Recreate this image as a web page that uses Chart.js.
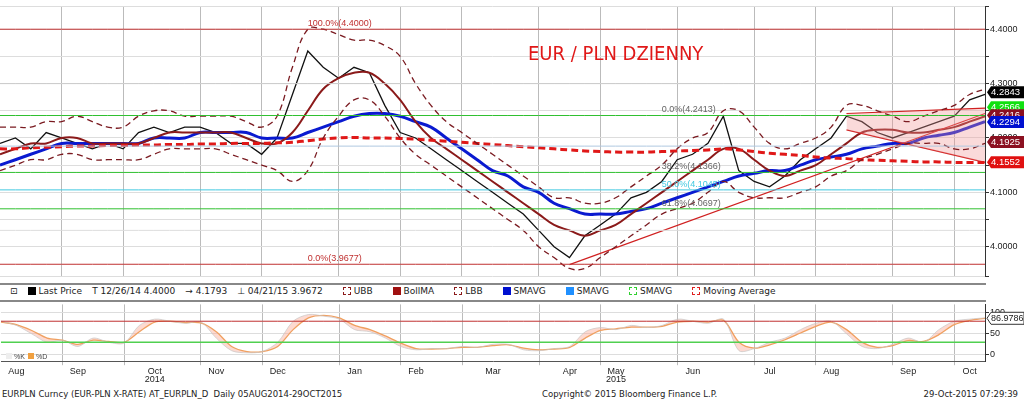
<!DOCTYPE html>
<html><head><meta charset="utf-8">
<script src="https://cdn.jsdelivr.net/npm/chart.js@4"></script>
<style>
body{margin:0;background:#fff;font-family:"DejaVu Sans",sans-serif;width:1024px;height:401px;overflow:hidden;position:relative}
#c1{position:absolute;left:0;top:0}
#c2{position:absolute;left:0;top:298px}
#leg{position:absolute;left:0;top:283px;width:986px;height:15px;font-size:9px;color:#222;border-top:2px solid #888;border-bottom:2px solid #888;line-height:13px;white-space:nowrap}
#leg span{margin-left:10px}
.sw{display:inline-block;width:8px;height:8px;vertical-align:-1px;margin-right:3px}
#foot{position:absolute;top:389px;left:2px;width:1018px;font-size:8.5px;color:#222}
</style></head><body>
<canvas id="c1" width="1024" height="283"></canvas>
<div id="leg"><span>⊡<span class="sw" style="background:#000"></span>Last Price</span><span>T 12/26/14 4.4000</span><span>→ 4.1793</span><span>⊥ 04/21/15 3.9672</span><span><span class="sw" style="border:1px dashed #8b1a1a;width:6px;height:6px"></span>UBB</span><span><span class="sw" style="background:#a01010"></span>BollMA</span><span><span class="sw" style="border:1px dashed #8b1a1a;width:6px;height:6px"></span>LBB</span><span><span class="sw" style="background:#0010d0"></span>SMAVG</span><span><span class="sw" style="background:#2090ff"></span>SMAVG</span><span><span class="sw" style="border:1px dashed #30d030;width:6px;height:6px"></span>SMAVG</span><span><span class="sw" style="border:1px dashed #e02020;width:6px;height:6px"></span>Moving Average</span></div>
<canvas id="c2" width="1024" height="90"></canvas>
<div id="foot"><span>EURPLN Curncy (EUR-PLN X-RATE) AT_EURPLN_D&nbsp; Daily 05AUG2014-29OCT2015</span><span style="position:absolute;left:540px">Copyright© 2015 Bloomberg Finance L.P.</span><span style="position:absolute;right:2px">29-Oct-2015 07:29:39</span></div>
<script>
const xLabels=["","Aug","","","","Sep","","","","","Oct","","","","Nov","","","","Dec","","","","","Jan","","","","Feb","","","","","Mar","","","","","Apr","","","May","","","","","Jun","","","","","Jul","","","","Aug","","","","","Sep","","","","Oct",""];
const yearLabels={10:"2014",40:"2015"};
const monthStart=[0,0,0,0,1,0,0,0,1,0,0,0,0,1,0,0,0,1,0,0,0,0,1,0,0,0,1,0,0,0,1,0,0,0,0,1,0,0,0,1,0,0,0,0,1,0,0,0,0,1,0,0,0,1,0,0,0,0,1,0,0,0,1,0,0];
const price=[4.19,4.20,4.18,4.21,4.20,4.19,4.18,4.19,4.18,4.21,4.22,4.21,4.22,4.22,4.21,4.19,4.19,4.17,4.20,4.28,4.36,4.33,4.31,4.33,4.32,4.26,4.21,4.20,4.18,4.16,4.14,4.12,4.10,4.08,4.06,4.03,4.00,3.98,4.02,4.04,4.06,4.09,4.10,4.12,4.16,4.17,4.19,4.24,4.14,4.12,4.11,4.13,4.16,4.18,4.20,4.24,4.23,4.21,4.20,4.21,4.22,4.23,4.24,4.27,4.28];
const smaBlue=[4.15,4.16,4.17,4.18,4.19,4.19,4.19,4.19,4.19,4.19,4.20,4.20,4.20,4.21,4.21,4.21,4.21,4.20,4.20,4.20,4.21,4.22,4.23,4.24,4.245,4.245,4.24,4.23,4.22,4.20,4.18,4.16,4.14,4.13,4.11,4.10,4.08,4.07,4.06,4.06,4.06,4.065,4.07,4.08,4.09,4.10,4.11,4.12,4.13,4.135,4.14,4.14,4.15,4.16,4.165,4.17,4.18,4.185,4.19,4.19,4.20,4.205,4.21,4.22,4.23];
const bollMA=[4.17,4.18,4.19,4.19,4.20,4.20,4.19,4.19,4.19,4.19,4.20,4.21,4.21,4.21,4.21,4.21,4.20,4.19,4.19,4.21,4.25,4.29,4.31,4.32,4.32,4.30,4.27,4.23,4.20,4.18,4.16,4.14,4.12,4.10,4.08,4.06,4.04,4.03,4.02,4.03,4.04,4.06,4.08,4.10,4.12,4.14,4.16,4.18,4.18,4.16,4.14,4.13,4.14,4.15,4.17,4.19,4.21,4.215,4.215,4.21,4.21,4.215,4.22,4.23,4.24];
const ma200=[4.18,4.18,4.182,4.183,4.184,4.185,4.185,4.186,4.186,4.187,4.187,4.188,4.188,4.189,4.189,4.19,4.19,4.19,4.191,4.192,4.195,4.198,4.2,4.201,4.2,4.2,4.199,4.198,4.196,4.194,4.192,4.19,4.188,4.186,4.184,4.182,4.18,4.178,4.176,4.175,4.174,4.174,4.174,4.175,4.176,4.177,4.178,4.18,4.178,4.175,4.172,4.17,4.168,4.165,4.163,4.162,4.16,4.159,4.158,4.157,4.156,4.156,4.155,4.155,4.155];
const ubb=[4.22,4.22,4.22,4.23,4.23,4.24,4.23,4.22,4.22,4.24,4.25,4.25,4.24,4.24,4.24,4.24,4.23,4.22,4.24,4.33,4.40,4.40,4.39,4.38,4.38,4.37,4.35,4.30,4.26,4.23,4.21,4.19,4.17,4.15,4.13,4.11,4.09,4.09,4.08,4.08,4.09,4.11,4.13,4.15,4.18,4.20,4.21,4.25,4.25,4.22,4.19,4.18,4.19,4.20,4.22,4.26,4.26,4.25,4.24,4.23,4.24,4.25,4.26,4.28,4.29];
const lbb=[4.14,4.15,4.16,4.16,4.17,4.17,4.16,4.16,4.16,4.16,4.17,4.18,4.18,4.18,4.18,4.17,4.16,4.15,4.14,4.12,4.14,4.20,4.24,4.27,4.27,4.24,4.20,4.17,4.15,4.13,4.11,4.09,4.07,4.05,4.03,4.00,3.98,3.96,3.96,3.98,4.00,4.02,4.04,4.06,4.07,4.08,4.10,4.12,4.10,4.09,4.09,4.09,4.10,4.11,4.13,4.14,4.16,4.17,4.18,4.19,4.19,4.19,4.18,4.18,4.19];
const trendLine=[[37,3.967],[64,4.245]];
const channelUp=[[55,4.245],[64,4.255]];
const channelLow=[[55,4.215],[64,4.155]];
const levels=[{v:4.4,c:"#c03030",t:"100.0%(4.4000)",i:20},{v:4.2413,c:"#30c030",t:"0.0%(4.2413)",i:43},{v:4.185,c:"#b0c8e0",t:"",i:0},{v:4.1366,c:"#30c030",t:"38.2%(4.1366)",i:43},{v:4.1045,c:"#40c8e0",t:"50.0%(4.1045)",i:43},{v:4.0697,c:"#30c030",t:"61.8%(4.0697)",i:43},{v:4.3,c:"#cccccc",t:"",i:0},{v:4.03,c:"#dddddd",t:"",i:0},{v:3.9677,c:"#c03030",t:"0.0%(3.9677)",i:20}];
const boxes=[{v:4.2843,b:"#000",t:"4.2843"},{v:4.2566,b:"#10e010",t:"4.2566"},{v:4.2416,b:"#8b1020",t:"4.2416"},{v:4.2294,b:"#0010d0",t:"4.2294"},{v:4.1925,b:"#8b1020",t:"4.1925"},{v:4.1552,b:"#e01010",t:"4.1552"}];
const oscTicks=[0,50,100];
const stochK=[80,70,50,30,35,20,40,30,28,70,85,80,75,78,40,10,5,8,30,80,96,92,85,60,55,40,20,12,15,15,20,18,25,25,12,10,15,20,55,65,60,70,65,70,85,80,75,85,10,15,30,40,60,75,80,50,20,15,25,40,30,60,80,85,88];
const stochD=[78,72,58,40,35,25,35,32,30,55,78,80,77,76,55,20,8,8,20,60,88,94,88,70,60,45,28,15,14,15,18,18,22,24,16,12,14,18,40,58,62,66,66,68,78,80,78,82,30,16,24,36,52,68,78,60,30,18,22,34,32,48,72,82,87];

const N=price.length, labels=xLabels, AXW=39;
const F='"Liberation Sans",Arial,sans-serif';
function gridCol(ctx){return monthStart[ctx.index]?'#bbbbbb':'rgba(0,0,0,0)';}
function pts(arr){const a=new Array(N).fill(null);arr.forEach(p=>a[p[0]]=p[1]);return a;}
const ds=[];
levels.forEach(l=>ds.push({data:new Array(N).fill(l.v),borderColor:l.c,borderWidth:1,pointRadius:0}));
ds.push({data:ubb,borderColor:'#7a1a20',borderDash:[6,4],borderWidth:1.3,pointRadius:0,tension:0.4});
ds.push({data:lbb,borderColor:'#7a1a20',borderDash:[6,4],borderWidth:1.3,pointRadius:0,tension:0.4});
ds.push({data:ma200,borderColor:'#e01818',borderDash:[7,4],borderWidth:3,pointRadius:0,tension:0.4});
ds.push({data:pts(channelUp),borderColor:'#d02020',borderWidth:1.2,pointRadius:0,spanGaps:true,fill:'+1',backgroundColor:'rgba(240,150,150,0.35)'});
ds.push({data:pts(channelLow),borderColor:'#d02020',borderWidth:1.2,pointRadius:0,spanGaps:true});
ds.push({data:pts(trendLine),borderColor:'#d02020',borderWidth:1.2,pointRadius:0,spanGaps:true});
ds.push({data:bollMA,borderColor:'#8b1a1a',borderWidth:2,pointRadius:0,tension:0.4});
ds.push({data:smaBlue,borderColor:'#0a1ad0',borderWidth:3,pointRadius:0,tension:0.4});
ds.push({data:price,borderColor:'#111',borderWidth:1.3,pointRadius:0,tension:0});
function box(c,x0,yy,fill,stroke,txt,tc){c.fillStyle=fill;c.beginPath();c.moveTo(x0,yy);c.lineTo(x0+4,yy-6);c.lineTo(x0+37,yy-6);c.lineTo(x0+37,yy+6);c.lineTo(x0+4,yy+6);c.closePath();c.fill();if(stroke){c.strokeStyle=stroke;c.stroke();}c.fillStyle=tc;c.textBaseline='middle';c.fillText(txt,x0+4,yy+0.5);}
const lab={id:'lab',afterDatasetsDraw(ch){const c=ch.ctx,x=ch.scales.x,y=ch.scales.y;c.save();c.font='9px '+F;c.textBaseline='bottom';
levels.forEach(l=>{if(l.t){c.fillStyle=l.c==='#30c030'?'#666':l.c;c.fillText(l.t,x.getPixelForValue(l.i),y.getPixelForValue(l.v)-1);}});
c.fillStyle='#e01818';c.font='20px "Liberation Sans Narrow","DejaVu Sans Condensed",sans-serif';c.textBaseline='middle';c.fillText('EUR / PLN DZIENNY',528,55);
c.font='9.5px '+F;boxes.forEach(b=>box(c,x.right+2,y.getPixelForValue(b.v),b.b,null,b.t,'#fff'));
c.restore();}};
const yTickFont={size:9,family:F};
new Chart(document.getElementById('c1'),{type:'line',data:{labels,datasets:ds},plugins:[lab],options:{responsive:false,animation:false,events:[],layout:{padding:0},plugins:{legend:{display:false},tooltip:{enabled:false}},
scales:{x:{offset:false,ticks:{display:false},grid:{color:gridCol,drawTicks:false},border:{display:false}},
y:{position:'right',min:3.945,max:4.442,afterFit(s){s.width=AXW;},grid:{color:'#ddd',tickColor:'#333',tickLength:4},border:{color:'#333'},
ticks:{stepSize:0.05,color:'#222',font:yTickFont,padding:1,callback:v=>Math.abs(v*10-Math.round(v*10))<1e-6?v.toFixed(4):''}}}}});

const oscDs=[
{data:new Array(N).fill(80),borderColor:'#c03030',borderWidth:1,pointRadius:0},
{data:new Array(N).fill(30),borderColor:'#50d050',borderWidth:1.5,pointRadius:0},
{data:stochK,borderColor:'rgba(200,200,200,0.7)',borderWidth:1,pointRadius:0,tension:0.3},
{data:stochD,borderColor:'#f0a060',borderWidth:1.3,pointRadius:0,tension:0.3,fill:'-1',backgroundColor:'rgba(250,170,150,0.45)'}];
const yrs={id:'yrs',afterDraw(ch){const c=ch.ctx,x=ch.scales.x;c.save();c.font='9px '+F;c.fillStyle='#222';c.textAlign='center';
Object.keys(yearLabels).forEach(k=>c.fillText(yearLabels[k],x.getPixelForValue(+k),ch.chartArea.bottom+21));
c.textAlign='left';c.font='7px '+F;c.fillStyle='#eee';c.fillRect(6,55,6,6);c.fillStyle='#444';c.fillText('%K',14,61);c.fillStyle='#f0a040';c.fillRect(28,55,6,6);c.fillStyle='#444';c.fillText('%D',36,61);
const y=ch.scales.y;c.font='9px '+F;c.lineWidth=1;box(c,x.right+2,y.getPixelForValue(86.98),'#fff','#333','86.9786','#222');
c.restore();}};
new Chart(document.getElementById('c2'),{type:'line',data:{labels,datasets:oscDs},plugins:[yrs],options:{responsive:false,animation:false,events:[],layout:{padding:{top:0,right:0,left:0,bottom:10}},plugins:{legend:{display:false},tooltip:{enabled:false}},
scales:{x:{offset:false,grid:{color:gridCol,tickColor:gridCol,tickLength:4},border:{color:'#555'},ticks:{autoSkip:false,maxRotation:0,color:'#222',font:{size:9,family:F},padding:1}},
y:{position:'right',min:-15,max:120,afterFit(s){s.width=AXW;},afterBuildTicks(s){s.ticks=oscTicks.map(v=>({value:v}));},border:{color:'#333'},grid:{color:'#ddd',tickColor:'#333',tickLength:4},
ticks:{color:'#222',font:yTickFont,padding:1}}}}});
</script></body></html>
